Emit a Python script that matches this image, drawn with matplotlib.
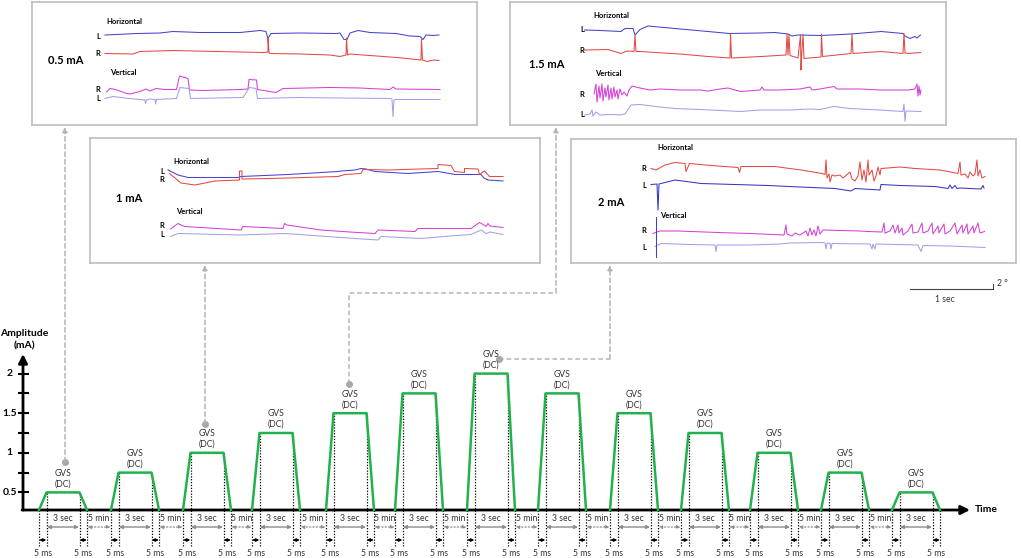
import matplotlib.pyplot as plt

plt.rcParams['font.family'] = ['Lato', 'DejaVu Sans']

W, H = 1021, 558

# stimulation protocol (schematic time axis, amplitude in mA)
pulse_start = [39, 111, 183, 252, 326, 395, 467, 538, 610, 681, 750, 821, 892]
pulse_level = [0.5, 0.75, 1, 1.25, 1.5, 1.75, 2, 1.75, 1.5, 1.25, 1, 0.75, 0.5]
ramp_w = 7.5
plateau_w = 33
yticks = [0.5, 0.75, 1, 1.25, 1.5, 1.75, 2]
ytick_labels = {0.5: '0.5', 1: '1', 1.5: '1.5', 2: '2'}

# eye traces (panel units), one list per channel
h05_L = [(105,35),(137,33.5),(160,33),(173,31.5),(200,32.5),(240,32.5),(260,30.5),(266,31.5),(268,38.5),(271,33.5),(300,33),(336,33.5),(340,33),(344,39.5),(347,39.5),(350,33),(358,30.5),(370,32.5),(396,33.5),(410,36),(420,36.5),(423,39.5),(426,35),(433,35.5),(439,35)]
h05_R = [(105,53.5),(133,54),(140,51.5),(173,50.5),(217,51.5),(263,52.5),(268,52),(268,38),(269,52.5),(270,53.5),(300,54),(330,55),(340,56.5),(346,55),(346.5,38),(347.5,55),(350,54),(363,55),(397,57.5),(421,60),(421.5,39),(422.5,60),(427,61.5),(434,60),(439,60.5)]
v05_R = [(106.5,92),(110,88.5),(113,89),(117,90),(125,93),(130,94),(140,91.5),(146,89),(150,91),(156,88.5),(165,89.5),(176.5,89.5),(179.5,76),(188,78.5),(189.5,90),(203,90.5),(240,89.5),(248,89),(249,79.5),(256.5,80),(257.5,89.5),(276,92.5),(283,88.5),(330,87.5),(360,88),(390,89.5),(393,87),(396,89),(440,89.5)]
v05_L = [(105,98.5),(113,96.5),(125,98),(145,100),(145.5,103.5),(146.5,100),(150,99),(155,99.5),(155.5,104),(156.5,99.5),(176.5,98.5),(180,87.5),(189,88.5),(190.5,98.5),(243,97.5),(249.5,87.5),(256,88.5),(257.5,98.5),(297,97.5),(340,98),(390,98.5),(392,99),(393,116.5),(394,100),(395,99.5),(440,99.5)]

h15_L = [(584.5,30),(600,30.5),(621,31.5),(625,28.5),(633,28.5),(635,35),(640,29.5),(648,26),(675,28.5),(708,31.5),(729.5,33.5),(760,33),(775,32.5),(788,34),(792,36),(798,35),(821,35.5),(851,34),(881,31.5),(903,33.5),(905,36),(910,38.5),(915,36.5),(917,38),(920.5,35)]
h15_R = [(584.5,50),(608,49.5),(621,53.5),(627,51),(634,51.5),(635,35),(636,51.5),(641,51.5),(655,52.5),(680,54),(708,56.5),(730,58),(730.5,33.5),(731.5,58),(761,56.5),(786,55),(787,34),(788,55),(789,34.5),(790,55.5),(798,58),(800.5,35),(801,70),(801.5,58),(803,34.5),(804,58.5),(821,57),(821.5,34),(822.5,56.5),(851,53.5),(852,34),(853,53.5),(881,51.5),(903,53.5),(904,33.5),(905,53),(908,53.5),(920.5,52.5)]
v15_R = [(594,94),(596,84),(597,102),(599,86),(600,98),(602,84),(603,101),(605,88),(606,97),(608,85),(609,100),(611,88),(612,99),(614,87),(615,97),(617,90),(618,99),(620,89),(622,95),(624,92),(627,96),(629,90),(632,86),(640,88),(650,90),(660,89),(680,90),(700,90),(708,91),(720,89),(728,88),(735,90),(741,91.5),(760,90),(762,87),(764,90),(780,90),(800,89),(810,87),(812,90),(820,89),(834,86.5),(837,89),(860,89),(880,90),(900,90),(908,90),(915,89),(917,84),(918,96),(919,86),(920,95),(921,90)]
v15_L = [(584.5,115),(590,114),(592,110),(593,116),(596,112),(600,115),(610,114.5),(620,115),(625,114),(631,105),(640,104.5),(660,107),(675,108.5),(700,109.5),(741,111.5),(760,110),(790,110),(810,109),(820,109.5),(834,106.5),(850,108.5),(880,110),(903,111.5),(904,104),(905,121.5),(906,111),(921,111.5)]

h1_L = [(168,170),(178,175),(188,177.5),(238,177.5),(241,176.5),(288,174.5),(305,173.5),(338,171.5),(341,171),(355,170),(361,168.5),(366,169),(375,171.5),(408,173.5),(438,171.5),(455,174.5),(481,174.5),(484,178),(488,180),(503,181)]
h1_R = [(169.5,173.5),(175,178),(181,183),(195,185),(215,181),(239.5,180),(239.5,171),(242,171),(242,179),(270,178.5),(305,177.5),(338,176.5),(345,174.5),(361,173.5),(363,169.5),(388,170),(421,169),(438,168.5),(438,164.5),(451,165.5),(454.5,171.5),(464.5,172.5),(464.5,168.5),(478,169),(479.5,174.5),(484.5,171),(489.5,176.5),(503,176.5)]
v1_R = [(170.5,229),(178,223.5),(184.5,226.5),(241,230),(243,226.5),(283,228.5),(284.5,223.5),(287,225),(321,230),(350,232),(375,233.5),(378,230),(415,231.5),(418,228.5),(450,228.5),(471,228.5),(479.5,222.5),(484,225),(486,226.5),(488,223.5),(490,226),(503,227.5)]
v1_L = [(170.5,236.5),(178,233.5),(241,235),(285,233.5),(320,236),(355,238.5),(378,240),(381,236.5),(421,238.5),(450,236),(471,234.5),(481,230),(486,233.5),(490,232),(503,234.5)]

h2_R = [(651,168.5),(656,170),(665,165),(675,162.5),(685,163.5),(686,171.5),(689.5,163.5),(711,165.5),(738,167.5),(739.5,172.5),(741,166.5),(775,166.5),(801,170),(822,173.5),(825,174.5),(826,160),(827,178),(829,174),(830,182),(832,175),(835,176),(840,175),(843,178),(850,172),(852,179),(855,181),(858,176),(860,162),(862,180),(864,170),(866,182),(868,160),(869,175),(872,170),(874,181),(876,176),(878,167),(880,175),(881,168.5),(900,167),(915,168.5),(940,170),(958,173.5),(960,162),(961,175),(965,174),(968,178),(970,172),(973,176),(975,174),(977,160),(978,176),(980,170),(982,178),(985,176.5)]
h2_L = [(651,184.5),(657,184),(658,210),(659,184),(661,183.5),(675,180),(690,182),(701,183.5),(735,184.5),(768,185.5),(800,187),(835,188.5),(851,191),(855,188.5),(880,190),(881,184.5),(900,185.5),(935,186.5),(948,188.5),(950,185),(952,188.5),(955,185.5),(957,188.5),(960,188),(981,189),(983,185.5),(984,188)]
v2_R = [(653,233.5),(660,231),(678,231),(718,232.5),(750,233.5),(784,235),(786,225),(787,234),(792,236),(795,233),(800,235),(806,231),(808,236),(810,228),(812,235),(814,230),(816,236),(818,226),(820,234),(823,230),(860,231),(868,231.5),(882,232),(884,223),(885,233),(890,231),(893,225),(895,233),(898,225),(899,233),(902,228),(903,235),(908,231),(912,224),(913,233),(918,232),(922,223),(923,233),(928,231),(932,223),(933,234),(938,226),(939,233),(944,224),(945,234),(950,231),(955,223),(957,234),(962,225),(963,233),(967,224),(968,234),(973,226),(974,233),(978,223),(980,233),(984.5,231.5)]
v2_L = [(655,246.5),(661,243.5),(690,244.5),(715,245),(716,251.5),(717,245),(750,245),(780,244),(790,243),(821,242.5),(825,243),(826,249),(827,243),(830,243.5),(831,249),(832,243.5),(870,244),(872,249),(873,244),(875,249),(876,244),(918,245),(921,251.5),(923,245.5),(950,246),(985,247.5)]
v2_bar = [(655.5,216.5),(655.5,256.5)]

C_HL = '#4444cc'
C_HR = '#e24a44'
C_VR = '#d640d6'
C_VL = '#a0a0ea'
GREEN = '#22b14c'

fig = plt.figure(figsize=(W / 100, H / 100), dpi=100)

# overlay for connectors / free text (pixel units)
ov = fig.add_axes([0, 0, 1, 1])
ov.set_xlim(0, W)
ov.set_ylim(H, 0)
ov.axis('off')

# main chart
ax = fig.add_axes([0, 0, 1, 218 / H])
ax.set_xlim(0, W)
ax.set_ylim(-0.328, 2.424)
ax.axis('off')
ax.patch.set_alpha(0)


def amp(px):
    return (532 - px) / 79.2


base = amp(510)
ax.annotate('', xy=(970, base), xytext=(22, base),
            arrowprops=dict(arrowstyle='-|>', color='black', lw=2, mutation_scale=13, shrinkA=0, shrinkB=0))
ax.annotate('', xy=(23, amp(354)), xytext=(23, base),
            arrowprops=dict(arrowstyle='-|>', color='black', lw=2, mutation_scale=13, shrinkA=0, shrinkB=0))
for t in yticks:
    ax.plot([18.5, 27.5], [t, t], color='black', lw=1.5)
    if t in ytick_labels:
        ax.text(9.5, t, ytick_labels[t], ha='center', va='center', fontsize=7.5, fontweight='bold')
ov.text(24, 333, 'Amplitude', ha='center', va='center', fontsize=7.5, fontweight='bold')
ov.text(24, 345.5, '(mA)', ha='center', va='center', fontsize=7.5, fontweight='bold')
ov.text(975, 509, 'Time', ha='left', va='center', fontsize=7.5, fontweight='bold')

dot_bottom = amp(546)
for i, (s, lv) in enumerate(zip(pulse_start, pulse_level)):
    xs = [s, s + ramp_w, s + ramp_w + plateau_w, s + 2 * ramp_w + plateau_w]
    ys = [base, lv, lv, base]
    for x, y in zip(xs, ys):
        ax.plot([x, x], [dot_bottom, y], color='black', ls=(0, (1, 1.3)), lw=0.9, zorder=2)
    ax.plot(xs, ys, color=GREEN, lw=1.8, zorder=3)
    mid = (xs[1] + xs[2]) / 2
    ax.text(mid, lv + 19 / 79.2, 'GVS', ha='center', va='center', fontsize=6.2, color='#333333')
    ax.text(mid, lv + 8.5 / 79.2, '(DC)', ha='center', va='center', fontsize=6.2, color='#333333')
    ax.text(mid, amp(518), '3 sec', ha='center', va='center', fontsize=6.2, color='#333333')
    ax.annotate('', xy=(xs[1] + 0.5, amp(527)), xytext=(xs[2] - 0.5, amp(527)),
                arrowprops=dict(arrowstyle='<|-|>', color='#8c8c8c', lw=1, mutation_scale=5, shrinkA=0, shrinkB=0))
    for a, b in [(xs[0], xs[1]), (xs[2], xs[3])]:
        ax.annotate('', xy=(a + 0.3, amp(540)), xytext=(b - 0.3, amp(540)),
                    arrowprops=dict(arrowstyle='<|-|>', color='black', lw=0.8, mutation_scale=4, shrinkA=0, shrinkB=0))
        ax.text((a + b) / 2, amp(553), '5 ms', ha='center', va='center', fontsize=6.2, color='#333333')
    if i + 1 < len(pulse_start):
        nxt = pulse_start[i + 1]
        ax.text((xs[3] + nxt) / 2, amp(518), '5 min', ha='center', va='center', fontsize=6.2, color='#333333')
        ax.annotate('', xy=(xs[3] + 0.5, amp(527)), xytext=(nxt - 0.5, amp(527)),
                    arrowprops=dict(arrowstyle='<|-|>', color='#8c8c8c', lw=0.9, ls=':', mutation_scale=5,
                                    shrinkA=0, shrinkB=0))

# connectors from pulses to panels
conn = [[(65, 462), (65, 127)],
        [(205, 424), (205, 265)],
        [(349, 384), (349, 293), (556, 293), (556, 127)],
        [(499, 359), (610, 359), (610, 265)]]
for path in conn:
    px, py = zip(*path)
    ov.plot(px[:-1], py[:-1], color='#b4b4b4', ls=(0, (3, 2)), lw=1.1)
    ov.plot(px[0], py[0], 'o', color='#a8a8a8', ms=4)
    ov.annotate('', xy=path[-1], xytext=path[-2],
                arrowprops=dict(arrowstyle='-|>', color='#b4b4b4', lw=1.1, ls=(0, (3, 2)),
                                mutation_scale=7, shrinkA=0, shrinkB=0))

# scale bar
ov.plot([910, 993], [289, 289], color='#444444', lw=0.8)
ov.plot([993, 993], [284, 289], color='#444444', lw=0.8)
ov.text(997, 284, '2 °', ha='left', va='center', fontsize=6.2, color='#333333')
ov.text(945, 300, '1 sec', ha='center', va='center', fontsize=6.2, color='#333333')

panels = [
    dict(box=(32, 2, 477, 125), name='0.5 mA', name_xy=(48, 61),
         labels=[('Horizontal', 106.5, 21), ('L', 98, 36.5), ('R', 98, 54), ('Vertical', 110, 72.5), ('R', 98, 90), ('L', 98, 98.5)],
         traces=[(h05_L, C_HL), (h05_R, C_HR), (v05_R, C_VR), (v05_L, C_VL)]),
    dict(box=(510, 2, 946, 125), name='1.5 mA', name_xy=(528.5, 64),
         labels=[('Horizontal', 593, 15.5), ('L', 582, 29.5), ('R', 582, 50.5), ('Vertical', 595, 73.5), ('R', 582, 94.5), ('L', 582, 114.5)],
         traces=[(h15_L, C_HL), (h15_R, C_HR), (v15_R, C_VR), (v15_L, C_VL)]),
    dict(box=(90, 138, 540, 263), name='1 mA', name_xy=(116, 198.5),
         labels=[('Horizontal', 173, 161.5), ('L', 162, 171.5), ('R', 162, 179.5), ('Vertical', 176, 211), ('R', 162, 226), ('L', 162, 234.5)],
         traces=[(h1_L, C_HL), (h1_R, C_HR), (v1_R, C_VR), (v1_L, C_VL)]),
    dict(box=(571, 139, 1016, 263), name='2 mA', name_xy=(598, 202.5),
         labels=[('Horizontal', 657, 147.5), ('R', 644, 168.5), ('L', 644, 185), ('Vertical', 660.5, 215.5), ('R', 644, 230.5), ('L', 644, 247.5)],
         traces=[(h2_R, C_HR), (h2_L, '#3636c6'), (v2_R, C_VR), (v2_L, C_VL), (v2_bar, '#4040d0')]),
]

for p in panels:
    x0, y0, x1, y1 = p['box']
    pa = fig.add_axes([x0 / W, 1 - y1 / H, (x1 - x0) / W, (y1 - y0) / H])
    pa.set_xlim(x0, x1)
    pa.set_ylim(y1, y0)
    pa.set_xticks([])
    pa.set_yticks([])
    for sp in pa.spines.values():
        sp.set_color('#bdbdbd')
        sp.set_linewidth(1.2)
    for tr, col in p['traces']:
        tx, ty = zip(*tr)
        pa.plot(tx, ty, color=col, lw=0.75)
    pa.text(p['name_xy'][0], p['name_xy'][1], p['name'], ha='left', va='center', fontsize=8, fontweight='bold')
    for txt, lx, ly in p['labels']:
        pa.text(lx, ly, txt, ha='left' if len(txt) > 1 else 'center', va='center',
                fontsize=5.5, fontweight='bold')

fig.savefig('out.png', dpi=100)
